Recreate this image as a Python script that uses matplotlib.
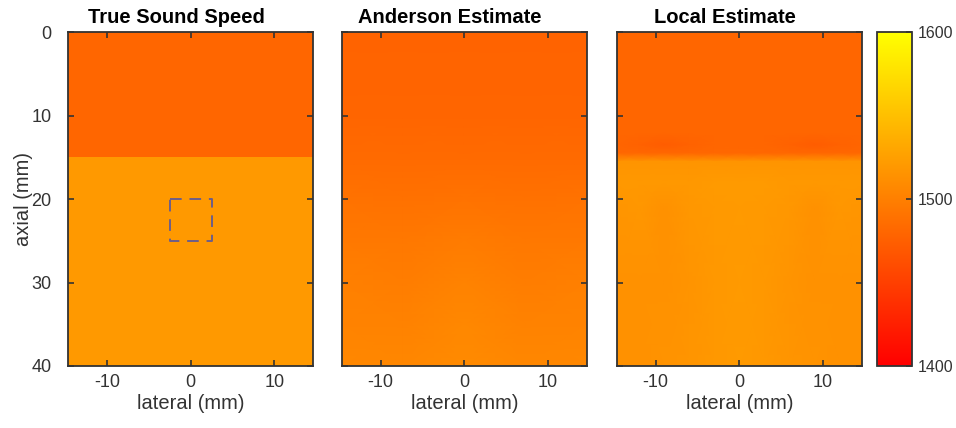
import matplotlib
matplotlib.use("Agg")
import matplotlib.pyplot as plt
import numpy as np

plt.rcParams['font.family'] = ['Liberation Sans', 'DejaVu Sans']
plt.rcParams['axes.unicode_minus'] = False

lat_lim = 14.6
ax_lim = 40
vmin, vmax = 1400, 1600

# true sound speed: two layers
true_lat = [-lat_lim, lat_lim]
true_ax = [0, 15, 40]
true_c = [[1480], [1520]]
box_lat = [-2.5, 2.5]
box_ax = [20, 25]

# Anderson estimate, coarse nodes
and_lat = [-14.6, -7.3, 0, 7.3, 14.6]
and_ax = [0, 10, 15, 20, 25, 30, 35, 40]
and_c = [
    [1478, 1478, 1478, 1478, 1478],
    [1479, 1479, 1479, 1479, 1479],
    [1483, 1483, 1483, 1483, 1483],
    [1490, 1489, 1490, 1489, 1490],
    [1495, 1494, 1497, 1494, 1495],
    [1500, 1498, 1503, 1498, 1500],
    [1503, 1502, 1507, 1502, 1503],
    [1507, 1506, 1509, 1506, 1507],
]

# local estimate
loc_lat = [-14.6, -12, -9, -6, -3, 0, 3, 6, 9, 12, 14.6]
loc_ax = [0, 12, 13.5, 14.5, 15.5, 18, 21, 30, 40]
loc_c = [
    [1480] * 11,
    [1480] * 11,
    [1479, 1477, 1473, 1477, 1480, 1480, 1480, 1477, 1473, 1477, 1479],
    [1481] * 11,
    [1516] * 11,
    [1519, 1519, 1519, 1519, 1521, 1521, 1521, 1519, 1519, 1519, 1519],
    [1517, 1518, 1514, 1518, 1520, 1521, 1520, 1518, 1514, 1518, 1517],
    [1514, 1514, 1514, 1516, 1519, 1521, 1519, 1516, 1514, 1514, 1514],
    [1514, 1514, 1515, 1517, 1519, 1521, 1519, 1517, 1515, 1514, 1514],
]

titles = ["True Sound Speed", "Anderson Estimate", "Local Estimate"]
grey = '#333333'

fig = plt.figure(figsize=(9.56, 4.28), dpi=100)
lefts = [0.0714, 0.3577, 0.6454]
axs = [fig.add_axes([l, 0.1449, 0.256, 0.780]) for l in lefts]

axs[0].pcolormesh(true_lat, true_ax, np.array(true_c), cmap='autumn',
                  vmin=vmin, vmax=vmax, shading='flat')
axs[0].plot([box_lat[0], box_lat[1], box_lat[1], box_lat[0], box_lat[0]],
            [box_ax[0], box_ax[0], box_ax[1], box_ax[1], box_ax[0]],
            ls=(0, (6, 4)), color='#6e5e88', lw=1.4)
axs[1].pcolormesh(and_lat, and_ax, np.array(and_c), cmap='autumn',
                  vmin=vmin, vmax=vmax, shading='gouraud')
im = axs[2].pcolormesh(loc_lat, loc_ax, np.array(loc_c), cmap='autumn',
                       vmin=vmin, vmax=vmax, shading='gouraud')

for i, ax in enumerate(axs):
    ax.set_xlim(-lat_lim, lat_lim)
    ax.set_ylim(ax_lim, 0)
    ax.set_xticks([-10, 0, 10])
    ax.set_yticks([0, 10, 20, 30, 40])
    ax.tick_params(direction='in', length=4, width=1.2, colors=grey,
                   labelsize=13, top=True, right=True, pad=6)
    ax.tick_params(axis='y', pad=12)
    for s in ax.spines.values():
        s.set_color(grey)
        s.set_linewidth(1.3)
    ax.set_xlabel("lateral (mm)", fontsize=14.5, color=grey, labelpad=2)
    ax.set_title(titles[i], fontsize=14.5, fontweight='bold', x=0.44, pad=6.5)
    if i == 0:
        ax.set_ylabel("axial (mm)", fontsize=14.5, color=grey, labelpad=-1)
    else:
        ax.set_yticklabels([])

cax = fig.add_axes([0.9174, 0.1449, 0.0366, 0.780])
cb = fig.colorbar(im, cax=cax, ticks=[1400, 1500, 1600])
cb.outline.set_edgecolor(grey)
cb.outline.set_linewidth(1.3)
cax.tick_params(direction='in', length=4, width=1.2, colors=grey,
                labelsize=11.5, pad=4)

fig.savefig("out.png", dpi=100)
